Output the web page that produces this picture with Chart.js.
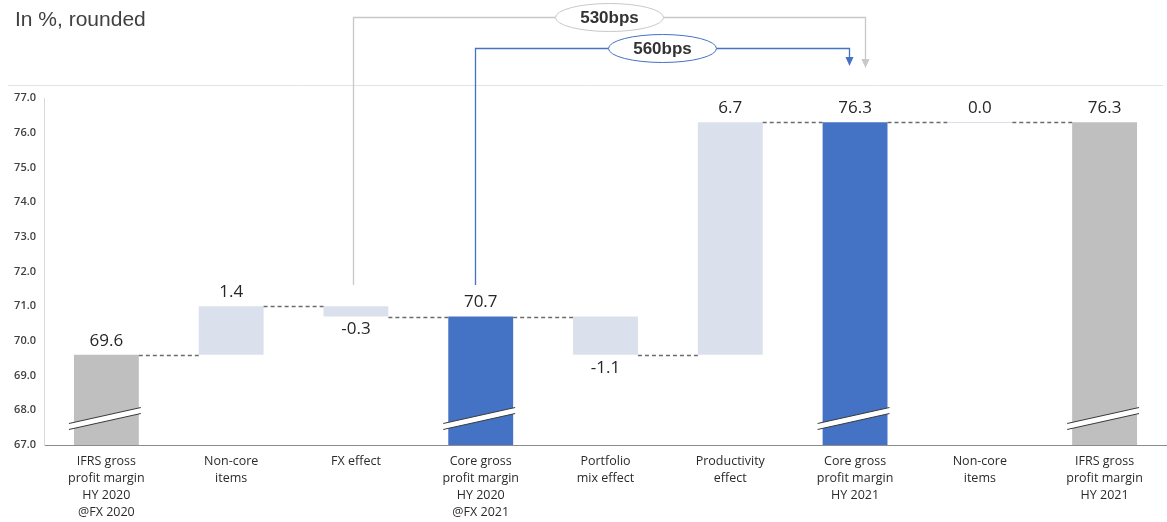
<!DOCTYPE html>
<html>
<head>
<meta charset="utf-8">
<script src="https://cdn.jsdelivr.net/npm/chart.js@4.4.1/dist/chart.umd.min.js"></script>
<style>
  html, body { margin: 0; padding: 0; background: #ffffff; }
  #wrap { position: relative; width: 1167px; height: 522px; }
  canvas { display: block; }
</style>
</head>
<body>
<div id="wrap"><canvas id="c" width="1167" height="522"></canvas></div>
<script>
// Gross margin bridge, HY 2020 -> HY 2021 (in %, rounded)
const categories = [
  ["IFRS gross", "profit margin", "HY 2020", "@FX 2020"],
  ["Non-core", "items"],
  ["FX effect"],
  ["Core gross", "profit margin", "HY 2020", "@FX 2021"],
  ["Portfolio", "mix effect"],
  ["Productivity", "effect"],
  ["Core gross", "profit margin", "HY 2021"],
  ["Non-core", "items"],
  ["IFRS gross", "profit margin", "HY 2021"]
];
// Totals are margin levels, the rest are changes in percentage points
const stepValues = [69.6, 1.4, -0.3, 70.7, -1.1, 6.7, 76.3, 0.0, 76.3];
const stepKinds  = ["total", "delta", "delta", "total", "delta", "delta", "total", "delta", "total"];
const axisMin = 67.0;
const axisMax = 77.0;
const axisStep = 1.0;
// Bracketed changes shown above the chart: from bar index to bar index
const bridgeLabels = ["530bps", "560bps"];
const bridgeFrom = [2, 3];
const bridgeTo = [6, 6];

// Colours
const totalColors = ["#BFBFBF", null, null, "#4472C4", null, null, "#4472C4", null, "#BFBFBF"];
const deltaColor = "#DAE1EC";

// Build floating bars: totals rise from the axis floor, changes move the running level
const floating = [];
let level = axisMin;
stepValues.forEach((v, i) => {
  if (stepKinds[i] === "total") {
    level = v;
    floating.push([axisMin, v]);
  } else {
    const start = level;
    level = Math.round((level + v) * 10) / 10;
    floating.push([start, level]);
  }
});
const barColors = stepKinds.map((k, i) => k === "total" ? totalColors[i] : deltaColor);

const FONT = "'Open Sans', 'Liberation Sans', Arial, sans-serif";

const bridgePlugin = {
  id: "bridgeDecor",
  beforeDraw(chart) {
    const ctx = chart.ctx;
    ctx.save();
    // page title
    ctx.fillStyle = "#404040";
    ctx.font = "21px 'Liberation Sans', Arial, sans-serif";
    ctx.textAlign = "left";
    ctx.textBaseline = "alphabetic";
    ctx.fillText("In %, rounded", 15, 26);
    // thin separator above the plot
    ctx.strokeStyle = "#E3E3E3";
    ctx.lineWidth = 1;
    ctx.beginPath();
    ctx.moveTo(8, 85.5);
    ctx.lineTo(1163, 85.5);
    ctx.stroke();
    ctx.restore();
  },
  afterDatasetsDraw(chart) {
    const ctx = chart.ctx;
    const y = chart.scales.y;
    const meta = chart.getDatasetMeta(0);
    const bars = meta.data.map(b => b.getProps(["x", "width"], true));
    ctx.save();

    // dashed connectors between neighbouring bars
    ctx.strokeStyle = "#6B6B6B";
    ctx.lineWidth = 1.5;
    ctx.setLineDash([4, 3]);
    for (let i = 0; i < bars.length - 1; i++) {
      const yy = Math.round(y.getPixelForValue(floating[i][1])) + 0.5;
      const x1 = bars[i].x + bars[i].width / 2;
      const x2 = bars[i + 1].x - bars[i + 1].width / 2;
      ctx.beginPath();
      ctx.moveTo(x1, yy);
      ctx.lineTo(x2, yy);
      ctx.stroke();
    }
    ctx.setLineDash([]);

    // zero-height change drawn as a thin line
    floating.forEach((f, i) => {
      if (f[0] === f[1]) {
        const yy = Math.round(y.getPixelForValue(f[1])) + 0.5;
        ctx.strokeStyle = barColors[i];
        ctx.lineWidth = 1;
        ctx.beginPath();
        ctx.moveTo(bars[i].x - bars[i].width / 2, yy);
        ctx.lineTo(bars[i].x + bars[i].width / 2, yy);
        ctx.stroke();
      }
    });

    // axis-break marks on bars that start at the axis floor
    floating.forEach((f, i) => {
      if (stepKinds[i] !== "total") return;
      const xl = bars[i].x - bars[i].width / 2 - 5;
      const xr = bars[i].x + bars[i].width / 2 + 2;
      const yl = y.getPixelForValue(axisMin + 0.62);
      const yr = y.getPixelForValue(axisMin + 1.08);
      const gap = 6;
      ctx.fillStyle = "#ffffff";
      ctx.beginPath();
      ctx.moveTo(xl, yl);
      ctx.lineTo(xr, yr);
      ctx.lineTo(xr, yr + gap);
      ctx.lineTo(xl, yl + gap);
      ctx.closePath();
      ctx.fill();
      ctx.strokeStyle = "#3A3A3A";
      ctx.lineWidth = 1;
      ctx.beginPath();
      ctx.moveTo(xl, yl);
      ctx.lineTo(xr, yr);
      ctx.moveTo(xl, yl + gap);
      ctx.lineTo(xr, yr + gap);
      ctx.stroke();
    });

    // value labels
    ctx.fillStyle = "#262626";
    ctx.font = "17px " + FONT;
    ctx.textAlign = "center";
    ctx.textBaseline = "middle";
    stepValues.forEach((v, i) => {
      const top = Math.max(floating[i][0], floating[i][1]);
      const bottom = Math.min(floating[i][0], floating[i][1]);
      let yy;
      if (stepKinds[i] === "delta" && v < 0) {
        yy = y.getPixelForValue(bottom) + 13;
      } else {
        yy = y.getPixelForValue(top) - 14;
      }
      ctx.fillText(v.toFixed(1), bars[i].x, yy);
    });

    // bracket annotations above the chart
    const styles = [
      { color: "#C8C8C8", lineY: 17.5, fromDx: -2.5, toDx: 10, tipY: 68, stopY: 285 },
      { color: "#4472C4", lineY: 48.5, fromDx: -5.5, toDx: -6, tipY: 66, stopY: 285 }
    ];
    bridgeLabels.forEach((lab, k) => {
      const s = styles[k];
      const xa = Math.round(bars[bridgeFrom[k]].x + s.fromDx) + 0.5;
      const xb = Math.round(bars[bridgeTo[k]].x + s.toDx) + 0.5;
      ctx.strokeStyle = s.color;
      ctx.lineWidth = 1.3;
      ctx.beginPath();
      ctx.moveTo(xa, s.stopY);
      ctx.lineTo(xa, s.lineY);
      ctx.lineTo(xb, s.lineY);
      ctx.lineTo(xb, s.tipY - 8);
      ctx.stroke();
      ctx.fillStyle = s.color;
      ctx.beginPath();
      ctx.moveTo(xb - 4, s.tipY - 9);
      ctx.lineTo(xb + 4, s.tipY - 9);
      ctx.lineTo(xb, s.tipY);
      ctx.closePath();
      ctx.fill();
      // label ellipse
      const cx = (xa + xb) / 2;
      ctx.fillStyle = "#ffffff";
      ctx.strokeStyle = s.color;
      ctx.lineWidth = 1;
      ctx.beginPath();
      ctx.ellipse(cx, s.lineY, 54, 14, 0, 0, Math.PI * 2);
      ctx.fill();
      ctx.stroke();
      ctx.fillStyle = "#333333";
      ctx.font = "bold 17px 'Liberation Sans', Arial, sans-serif";
      ctx.textAlign = "center";
      ctx.textBaseline = "middle";
      ctx.fillText(lab, cx, s.lineY + 1);
    });

    ctx.restore();
  }
};

new Chart(document.getElementById("c"), {
  type: "bar",
  data: {
    labels: categories,
    datasets: [{
      data: floating,
      backgroundColor: barColors,
      borderWidth: 0,
      categoryPercentage: 1.0,
      barPercentage: 0.52
    }]
  },
  options: {
    responsive: false,
    animation: false,
    events: [],
    layout: { padding: { top: 98, left: 0, right: 0, bottom: 0 } },
    plugins: {
      legend: { display: false },
      tooltip: { enabled: false },
      title: { display: false }
    },
    scales: {
      x: {
        afterFit(scale) { scale.height = 77; },
        grid: { display: false, drawTicks: false },
        border: { display: true, color: "#8C8C8C", width: 1 },
        ticks: {
          padding: 8,
          color: "#2B2B2B",
          font: { family: FONT, size: 12.5, lineHeight: 1.36 },
          maxRotation: 0,
          autoSkip: false
        }
      },
      y: {
        min: axisMin,
        max: axisMax,
        afterFit(scale) { scale.width = 44; },
        grid: { display: false, drawTicks: false },
        border: { display: true, color: "#D9D9D9", width: 1 },
        ticks: {
          stepSize: axisStep,
          padding: 8,
          color: "#404040",
          font: { family: FONT, size: 11, weight: "600" },
          callback: v => Number(v).toFixed(1)
        }
      }
    }
  },
  plugins: [bridgePlugin]
});
</script>
</body>
</html>
